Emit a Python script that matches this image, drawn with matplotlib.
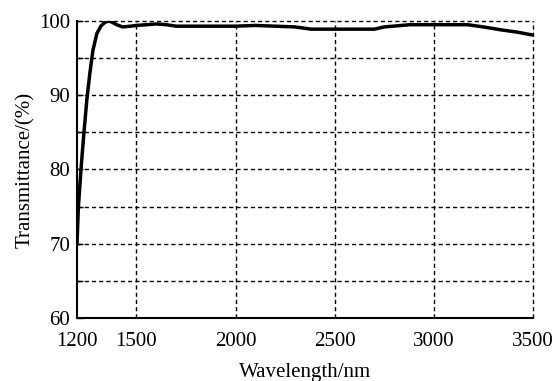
import numpy as np
import matplotlib
matplotlib.use("Agg")
import matplotlib.pyplot as plt

# ---------------------------------------------------------
# DATA
# ---------------------------------------------------------
wavelength = [1200, 1207, 1220, 1235, 1250, 1265, 1280, 1300, 1320, 1340,
              1360, 1380, 1400, 1430, 1470, 1500, 1550, 1600, 1650, 1700,
              1800, 2000, 2100, 2200, 2300, 2380, 2700, 2750, 2880, 3170,
              3250, 3340, 3420, 3500]
transmittance = [70.0, 75.0, 80.0, 85.0, 89.5, 93.0, 96.0, 98.3, 99.3, 99.8,
                 100.0, 99.8, 99.5, 99.2, 99.3, 99.4, 99.5, 99.6, 99.5, 99.3,
                 99.3, 99.3, 99.4, 99.3, 99.2, 98.9, 98.9, 99.2, 99.5, 99.5,
                 99.2, 98.8, 98.5, 98.1]

x_ticks = [1200, 1500, 2000, 2500, 3000, 3500]
y_ticks = [60, 70, 80, 90, 100]
y_grid = [65, 70, 75, 80, 85, 90, 95, 100]
x_grid = [1500, 2000, 2500, 3000, 3500]

# ---------------------------------------------------------
# FIGURE
# ---------------------------------------------------------
plt.rcParams['font.family'] = ['Liberation Serif', 'DejaVu Serif']

fig = plt.figure(figsize=(5.56, 3.81), dpi=100)
ax = fig.add_axes([0.1385, 0.1654, 0.8201, 0.7795])

grid_kw = dict(color="black", lw=1.0, ls=(0, (3, 2.2)), zorder=1, clip_on=False)
for yv in y_grid:
    ax.axhline(yv, **grid_kw)
for xv in x_grid:
    ax.axvline(xv, **grid_kw)

ax.plot(wavelength, transmittance, color="black", lw=2.5, zorder=3,
        solid_joinstyle="round")

ax.set_xlim(1200, 3500)
ax.set_ylim(60, 100)
ax.set_xticks(x_ticks)
ax.set_yticks(y_ticks)
ax.set_yticks(y_grid, minor=True)

for side in ("top", "right"):
    ax.spines[side].set_visible(False)
for side in ("left", "bottom"):
    ax.spines[side].set_linewidth(1.5)

ax.tick_params(axis="y", which="both", direction="in", length=4, width=1,
               labelsize=15, pad=5)
ax.tick_params(axis="x", which="both", length=0, labelsize=15, pad=10)

ax.set_xlabel("Wavelength/nm", fontsize=15, labelpad=9)
ax.set_ylabel("Transmittance/(%)", fontsize=15, labelpad=3)

fig.savefig("out.png", dpi=100)
